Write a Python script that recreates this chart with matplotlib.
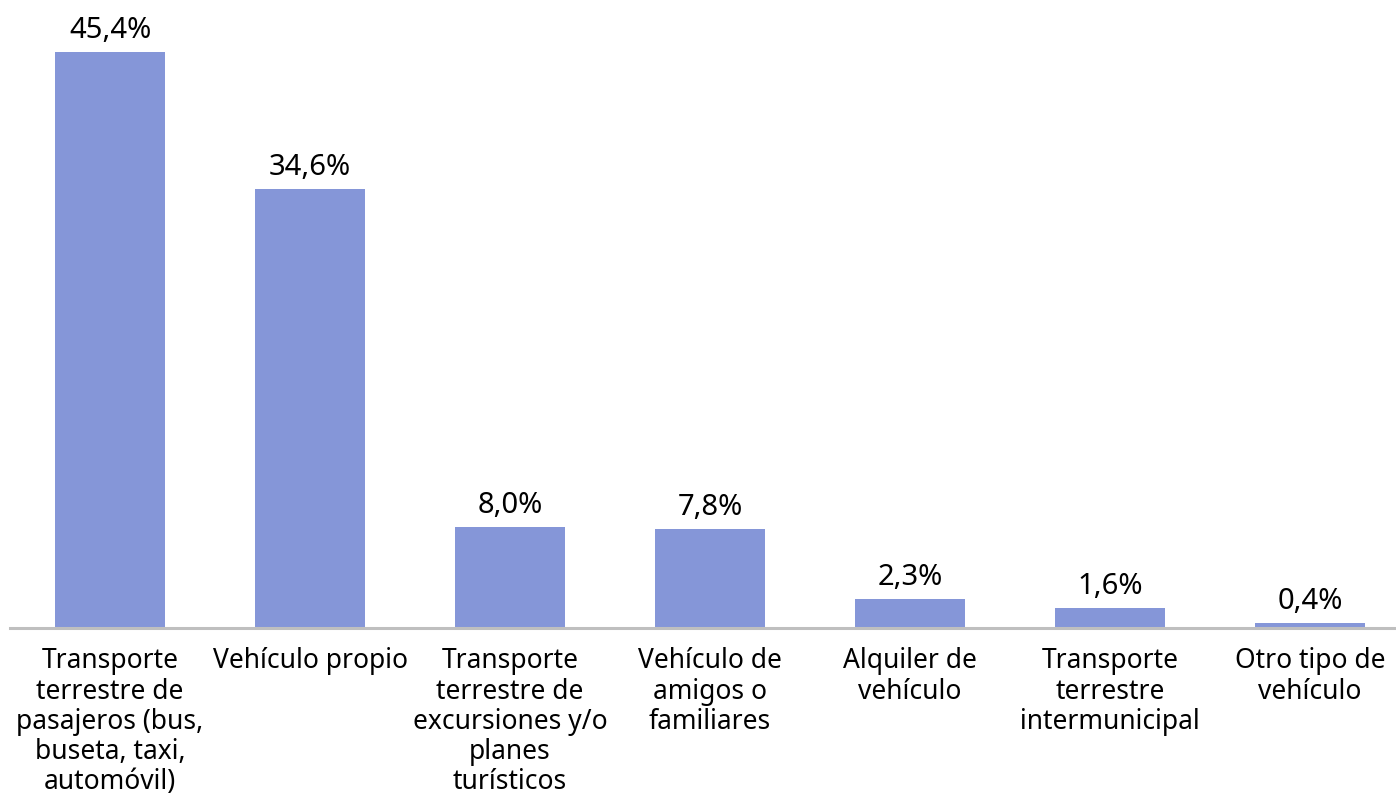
import matplotlib
matplotlib.use("Agg")
import matplotlib.pyplot as plt

categorias = [
    "Transporte\nterrestre de\npasajeros (bus,\nbuseta, taxi,\nautomóvil)",
    "Vehículo propio",
    "Transporte\nterrestre de\nexcursiones y/o\nplanes\nturísticos",
    "Vehículo de\namigos o\nfamiliares",
    "Alquiler de\nvehículo",
    "Transporte\nterrestre\nintermunicipal",
    "Otro tipo de\nvehículo",
]
valores = [45.4, 34.6, 8.0, 7.8, 2.3, 1.6, 0.4]
etiquetas = ["45,4%", "34,6%", "8,0%", "7,8%", "2,3%", "1,6%", "0,4%"]

plt.rcParams["font.family"] = ["Noto Sans", "DejaVu Sans"]

fig = plt.figure(figsize=(13.96, 7.98), dpi=100)
ax = fig.add_axes([10 / 1396, 170 / 798, 1400 / 1396, 628 / 798])

x = range(len(valores))
barras = ax.bar(x, valores, width=0.55, color="#8596D8")
ax.bar_label(barras, labels=etiquetas, padding=5, fontsize=21, color="black")

ax.set_xlim(-0.5, len(valores) - 0.5)
ax.set_ylim(0, 49.5)
ax.set_xticks(list(x))
ax.set_xticklabels(categorias, fontsize=19, linespacing=1.1, va="top")
ax.tick_params(axis="x", length=0, pad=14)
ax.set_yticks([])

for lado in ["top", "right", "left"]:
    ax.spines[lado].set_visible(False)
ax.spines["bottom"].set_color("#BFBFBF")
ax.spines["bottom"].set_linewidth(2.2)

fig.savefig("out.png", dpi=100)
